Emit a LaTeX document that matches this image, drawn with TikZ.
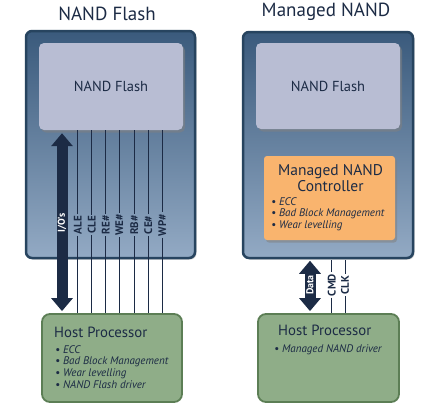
\documentclass[tikz,border=0pt]{standalone}
\usepackage{fontspec}
\setmainfont{PT Sans}
\usetikzlibrary{arrows.meta,shadows}
\definecolor{navy}{HTML}{1C2B45}
\definecolor{outerline}{HTML}{27445F}
\definecolor{outertop}{HTML}{3A5A7C}
\definecolor{outerbot}{HTML}{93AAC4}
\definecolor{lav}{HTML}{B8BDD3}
\definecolor{orng}{HTML}{F9B46E}
\definecolor{grn}{HTML}{8FAD88}
\definecolor{grnline}{HTML}{5C7E55}
\begin{document}
\begin{tikzpicture}[x=1pt,y=-1pt,
  title/.style={font=\fontsize{19}{22}\selectfont, text=navy},
  outerbox/.style={draw=outerline, line width=2.5pt, rounded corners=6pt,
    top color=outertop, bottom color=outerbot,
    drop shadow={shadow xshift=1.5pt, shadow yshift=-1.5pt, opacity=0.35}},
  chip/.style={fill=lav, rounded corners=5pt, text=navy,
    font=\fontsize{14.5}{16}\selectfont,
    drop shadow={shadow xshift=2pt, shadow yshift=-2.5pt, opacity=0.55}},
  ctrl/.style={fill=orng, rounded corners=3pt,
    drop shadow={shadow xshift=2pt, shadow yshift=-2.5pt, opacity=0.55}},
  host/.style={fill=grn, draw=grnline, line width=1.8pt, rounded corners=8pt},
  hosttitle/.style={anchor=west, text=navy, font=\fontsize{14.8}{16}\selectfont, inner sep=0pt},
  bullets/.style={anchor=north west, align=left, text=navy, inner sep=0pt,
    font=\fontsize{11}{11.8}\selectfont\itshape},
  bigarrow/.style={draw=navy, line width=11pt, {Triangle[width=21pt,length=13pt]}-{Triangle[width=21pt,length=13pt]}},
  sig/.style={draw=navy, line width=0.8pt},
  siglab/.style={rotate=90, text=navy, inner sep=1.5pt, font=\fontsize{11}{12}\selectfont\bfseries},
  iolab/.style={rotate=90, text=white, inner sep=0pt, font=\fontsize{10}{11}\selectfont\bfseries}
]
\useasboundingbox (0,0) rectangle (439,405);
\fill[white] (0,0) rectangle (439,405);

\node[title] (t1) at (107,14) {NAND Flash};
\node[title] (t2) at (326,12) {Managed NAND};

% left side
\node[outerbox, minimum width=169pt, minimum height=227pt] (lo) at (110.5,144.5) {};
\node[chip, minimum width=144pt, minimum height=87pt] (lf) at (111,86.5) {NAND Flash};
\node[host, minimum width=140pt, minimum height=88pt] (lh) at (112,358) {};
\node[hosttitle] (lht) at (54,332) {Host Processor};
\node[bullets] (lhb) at (55,345) {• ECC\\• Bad Block Management\\• Wear levelling\\• NAND Flash driver};

\coordinate (xio) at (62,0);
\draw[bigarrow] ([yshift=-3pt]lf.south -| xio) -- ([yshift=2pt]lh.north -| xio);
\node[iolab] (io) at (62,223) {I/O's};

\foreach \n/\x/\t in {ale/77.7/ALE, cle/91.7/CLE, re/105.7/RE\#, we/119.3/WE\#, rb/134.3/RB\#, ce/148.3/CE\#, wp/162.3/WP\#}{
  \node[siglab] (\n) at (\x,225) {\t};
  \draw[sig] (lf.south -| \n) -- (\n.east);
  \draw[sig] (\n.west) -- (lh.north -| \n);
}

% right side
\node[outerbox, minimum width=170pt, minimum height=226pt] (ro) at (328,145) {};
\node[chip, minimum width=144pt, minimum height=86pt] (rf) at (328,86) {NAND Flash};
\node[ctrl, minimum width=131pt, minimum height=84pt] (rc) at (329.5,198) {};
\node[text=navy, align=center, font=\fontsize{15.5}{14}\selectfont, inner sep=0pt] (rct) at (330.5,178) {Managed NAND\\Controller};
\node[bullets] (rcb) at (271,197) {• ECC\\• Bad Block Management\\• Wear levelling};
\node[host, minimum width=141pt, minimum height=88pt] (rh) at (328.5,358) {};
\node[hosttitle] (rht) at (278,330) {Host Processor};
\node[bullets] (rhb) at (274,344) {• Managed NAND driver};

\coordinate (xdata) at (310,0);
\draw[bigarrow] ([yshift=-1.5pt]ro.south -| xdata) -- ([yshift=2pt]rh.north -| xdata);
\node[iolab] (data) at (310,285) {Data};
\foreach \n/\x/\t in {cmd/331.7/CMD, clk/345/CLK}{
  \node[siglab] (\n) at (\x,285) {\t};
  \draw[sig] ([yshift=-1.2pt]ro.south -| \n) -- (\n.east);
  \draw[sig] (\n.west) -- (rh.north -| \n);
}
\end{tikzpicture}
\end{document}
